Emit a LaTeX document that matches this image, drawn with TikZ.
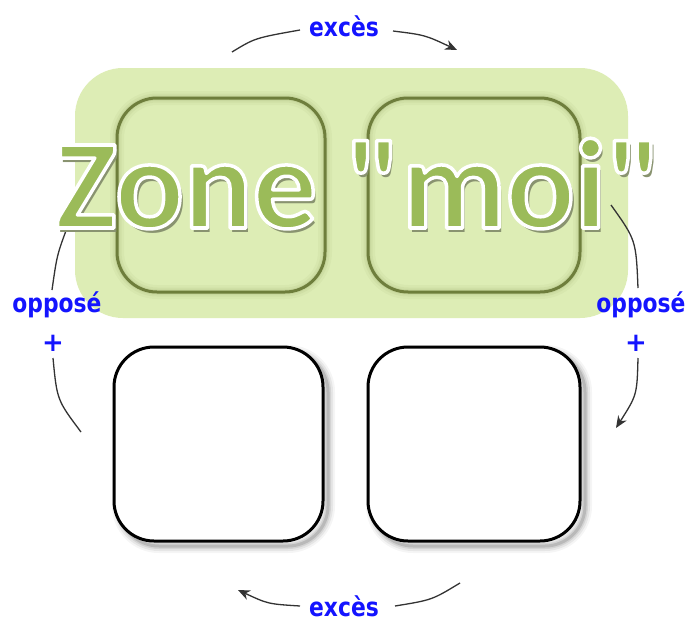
\documentclass[tikz,border=0pt]{standalone}
\usepackage{graphicx}
\usepackage{fontspec}
\setmainfont{DejaVu Sans}
\newfontfamily\titlefont{Carlito}
\usetikzlibrary{arrows.meta}
\definecolor{zonegreen}{HTML}{DDEDB5}
\definecolor{olive}{HTML}{6E7E3C}
\definecolor{titlegreen}{HTML}{9BBB59}
\definecolor{labelblue}{HTML}{1414FF}
\colorlet{titleshade}{zonegreen!62!black}
\tikzset{
  zone/.style={fill=zonegreen, rounded corners=48pt},
  upbox/.style={draw=olive, line width=3pt, rounded corners=40pt},
  lowbox/.style={draw=black, line width=3pt, fill=white, rounded corners=40pt},
  flow/.style={draw=black!80, line width=1.3pt},
  tip/.style={-{Stealth[length=12pt,width=10pt]}},
  lbl/.style={text=labelblue, font=\bfseries\fontsize{26}{26}\selectfont, inner sep=0pt},
  ttl/.style={font=\titlefont\bfseries\fontsize{128}{128}\selectfont, inner sep=0pt, anchor=base},
}
% narrow bold label text
\newcommand{\narrow}[1]{\scalebox{0.84}[1]{#1}}
% title text filled green and stroked white (text render mode 2)
\newcommand{\outlined}[1]{\special{pdf:literal direct 2 Tr 3.5 w 1 j 1 1 1 RG}#1\special{pdf:literal direct 0 Tr}}
% shade laid under the title, shifted right and down
\newcommand{\shaded}[1]{\rlap{\hspace{3pt}\raisebox{-4pt}{\color{titleshade}#1}}}
\newcommand{\titletext}{Zone "moi"}
\begin{document}
\begin{tikzpicture}[x=1pt,y=-1pt]
\useasboundingbox (0,0) rectangle (689,621);
\fill[white] (0,0) rectangle (689,621);

% green zone around the upper pair
\path[zone] (75,68) rectangle (628,318);

% upper boxes with a soft inner shade
\foreach \lx/\rx in {117/325, 368/580}{
  \foreach \w/\o in {14/0.05, 9/0.07, 5/0.10}{
    \draw[olive, opacity=\o, line width=\w pt, rounded corners=40pt] (\lx,98) rectangle (\rx,292);
  }
}
\draw[upbox] (117,98) rectangle (325,292);
\draw[upbox] (368,98) rectangle (580,292);

% lower boxes with a drop shade
\foreach \lx/\rx in {114/323, 368/580}{
  \foreach \w/\o in {14/0.04, 10/0.06, 6/0.08, 3/0.12}{
    \draw[black, opacity=\o, line width=\w pt, rounded corners=40pt] (\lx+5,352) rectangle (\rx+5,546);
  }
  \draw[lowbox] (\lx,347) rectangle (\rx,541);
}

% labels
\node[lbl] (topx) at (344,26) {\narrow{excès}};
\node[lbl] (botx) at (344,606) {\narrow{excès}};
\node[lbl] (lop) at (57,305) {\narrow{opposé}};
\node[lbl] (rop) at (641,305) {\narrow{opposé}};
\node[lbl] (lplus) at (53,343) {+};
\node[lbl] (rplus) at (636,343) {+};

% connector ends
\coordinate (t1) at (232,52);
\coordinate (t2) at (300,30);
\coordinate (t3) at (393,31);
\coordinate (t4) at (457,50);
\coordinate (r1) at (611,205);
\coordinate (r2) at (638,288);
\coordinate (r3) at (638,358);
\coordinate (r4) at (616,428);
\coordinate (b1) at (460,583);
\coordinate (b2) at (395,606);
\coordinate (b3) at (300,606);
\coordinate (b4) at (238,590);
\coordinate (l1) at (67,228);
\coordinate (l2) at (52,290);
\coordinate (l3) at (53,358);
\coordinate (l4) at (81,432);

% cycle of arrows
\draw[flow] (t1) .. controls (255,38) .. (t2);
\draw[flow,tip] (t3) .. controls (425,35) .. (t4);
\draw[flow] (r1) .. controls (636,240) .. (r2);
\draw[flow,tip] (r3) .. controls (637,395) .. (r4);
\draw[flow] (b1) .. controls (432,600) .. (b2);
\draw[flow,tip] (b3) .. controls (268,604) .. (b4);
\draw[flow] (l1) .. controls (57,255) .. (l2);
\draw[flow] (l3) .. controls (57,400) .. (l4);

% title: shade, then green letters with a white outline
\node[ttl, text=titlegreen] (title) at (359,228) {\shaded{\titletext}\outlined{\titletext}};
\end{tikzpicture}
\end{document}
